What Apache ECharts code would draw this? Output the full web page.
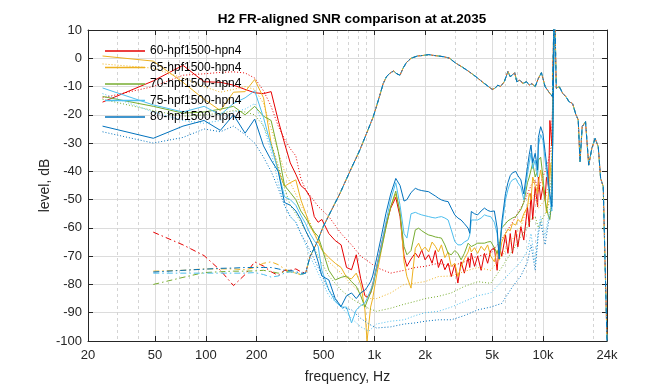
<!DOCTYPE html>
<html><head><meta charset="utf-8">
<script src="https://cdn.jsdelivr.net/npm/echarts@6/dist/echarts.min.js"></script>
<style>html,body{margin:0;padding:0;background:#fff}#c{width:672px;height:384px}</style>
</head><body><div id="c"></div>
<script>
// ---------- axes / labels ----------
const titleText = 'H2 FR-aligned SNR comparison at at.2035';
const tickHz = [20, 50, 100, 200, 500, 1000, 2000, 5000, 10000, 24000];
const tickText = ['20', '50', '100', '200', '500', '1k', '2k', '5k', '10k', '24k'];
const minorHz = [30, 40, 60, 70, 80, 90, 300, 400, 600, 700, 800, 900, 3000, 4000, 6000, 7000, 8000, 9000, 20000];
const configs = ['60-hpf1500-hpn4', '65-hpf1500-hpn4', '70-hpf1500-hpn4', '75-hpf1500-hpn4', '80-hpf1500-hpn4'];

// ---------- solid lines (shared frequency grid, Hz) ----------
const freqSolid = [24.4,48.8,73.2,97.7,122,146,171,195,220,244,269,293,317,342,366,391,415,440,464,488,
  537,586,635,684,732,781,830,879,905,950,977,1030,1100,1170,1250,1340,1420,1500,1560,1650,1750,1830,1910,
  2000,2100,2200,2300,2400,2500,2620,2740,2860,3000,3130,3270,3420,3600,3680,3760,3930,4100,4300,4500,4700,4900,
  5150,5350,5500,5700,6000,6200,6400,6600,6900,7100,7400,7700,8100,8300,8500,8700,9000,9300,9400,9700,10000,10300,10500,10800,11000,11300,11700];
const solid60 = [-15.5,-8,-2.5,-8.3,-8.5,-9.5,-11,-12.2,-12.5,-11.8,
  -22,-30,-37,-41,-45,-46.5,-49,-56,-58,-57,
  -62,-64.5,-66,-74,-74.8,-69.5,-78,-84,-84.5,-83,
  -80,-74,-66,-59,-53,-49.2,-56,-70,-73.6,-71,
  -68.9,-70.5,-67.8,-71.3,-69.5,-72.5,-68,-74,-71,-74.8,
  -72.5,-77.2,-73,-79.5,-72,-76,-70.5,-74,-68.9,-73.6,
  -70,-75,-69,-72.5,-68,-67,-75,-66,-70,-62.5,
  -69,-62,-69,-60.8,-66.7,-59.6,-64.3,-52.5,-59.6,-47.8,
  -57,-45.4,-52.5,-42,-50,-45.4,-50,-42,-45.4,-22,
  -31,20];
const solid65 = [0.8,-1,-8.5,-14.5,-18.5,-12,-11.8,-7.5,-14,-30,
  -39.5,-45.3,-44,-43,-50,-54.7,-59.4,-62,-64.7,-67.8,
  -70.5,-72.5,-74,-77.5,-78,-76,-80,-89,-100,-88,
  -85,-77,-68,-60,-52.5,-48,-54,-72,-77.2,-81.3,
  -67.2,-65.4,-68,-66.8,-68.5,-65,-66.5,-68.5,-66,-70.5,
  -68.5,-73.6,-72.5,-77.2,-73.6,-71,-68.5,-66.6,-68.5,-67,
  -69,-66.5,-68,-66,-70,-72,-68,-71.4,-65,-62,
  -60.5,-61,-58.4,-59,-57,-58,-55,-52.5,-47.8,-50,
  -42,-45,-47.8,-44,-39.5,-45,-50,-54.7,-48,-37,
  -45,20];
const solid70 = [-13.5,-17,-19.4,-19,-18,-17,-20,-17,-20.5,-22,
  -33,-45,-47.5,-50,-54,-56.5,-59,-61.5,-63,-67,
  -75,-78.4,-77.5,-77,-79,-80.7,-84,-88,-86,-83,
  -81,-74.5,-67.5,-60,-52.5,-47,-55,-66.6,-69.5,-68,
  -60.7,-60.1,-61,-61.8,-62.5,-62.8,-63.2,-63.4,-63.6,-66,
  -69,-69.5,-68,-69,-71.3,-69,-65.4,-66,-66.6,-66,
  -65.4,-65.4,-65.4,-65,-64.8,-67,-69,-66.7,-60,-58.5,
  -57.5,-57,-56.5,-56,-55,-53.5,-51,-44,-42,-39.5,
  -37,-42,-40,-36,-35,-42,-50,-53,-56,-57,
  -50,20];
const solid75 = [-10.5,-16.5,-19,-17,-20,-16,-14,-11.5,-21,-31,
  -40,-49,-50,-52,-55.5,-58.5,-62,-64.5,-66.5,-75,
  -82,-86,-88,-88,-93.6,-89,-87.5,-86.5,-85,-82,
  -80,-74,-66,-58,-50,-44,-52,-62,-63.6,-55,
  -54.5,-55,-55.4,-55.7,-56,-56.3,-56.5,-56.2,-56,-56.5,
  -57.2,-60.7,-64.8,-66,-66,-65,-64.2,-62.5,-57.2,-57.2,
  -57.2,-56.5,-55.4,-55.8,-56,-58,-62,-70,-60,-50,
  -46.5,-44,-43,-42.5,-44,-45.5,-50,-41,-37,-33.5,
  -39,-36,-42,-31,-27,-29,-36,-40,-46,-50,
  -54,20];
const solid80 = [-24,-28.3,-24,-22,-25.5,-20,-26.5,-21.5,-31,-36,
  -40,-51,-52,-54,-57,-61,-64,-67.5,-72,-77,
  -78.4,-85,-87.8,-84,-83,-85,-83,-82,-81,-79,
  -77,-71,-63,-55,-48,-42.5,-45,-50.5,-50,-47.5,
  -46,-46.5,-46.8,-47,-47.2,-48,-48.7,-49.5,-50.1,-50.5,
  -50.7,-53,-55.4,-56.5,-57.2,-58.5,-60.1,-61.9,-54.2,-55,
  -55.4,-54,-53,-53.8,-54.2,-54,-60,-71,-58,-47.8,
  -44,-41.5,-40.5,-40,-41.5,-43,-48,-38.3,-34,-30.7,
  -37,-33.6,-39.5,-28,-24.2,-26.6,-33,-37,-44,-48,
  -52.5,20];

// ---------- dotted lines ----------
const freqDot = [24.4,48.8,73.2,97.7,122,146,171,195,220,244,269,293,317,342,366,391,
  415,464,537,635,732,830,928,1030,1250,1500,1750,2000,2400,2860,3420,4100,4900,
  5700,6600,7400,8100,8500,9000,9400,9700,10300,10800,11300,11700];
const dot60 = [-14,-10,-6,-5.5,-5,-4.8,-5.2,-7,-11.5,-17,-24,-28.5,-32,-34.5,-42.5,-46.5,
  -48.5,-52.4,-56,-62,-66,-70,-72,-74,-76,-75,-74,-73.6,-72.5,-73.6,-72,-70,-69,
  -64,-58,-53,-48,-45,-43,-47,-44,-40,-36,-30,20];
const dot65 = [-2,-3.5,-7,-10,-12,-11,-10,-11,-16,-25,-33,-40,-44,-48,-52,-55,
  -58,-65,-72,-76,-80,-83,-85,-85,-83,-80,-79.5,-79,-77.2,-77,-75.4,-74,-75,
  -70,-64,-59.6,-52.5,-50,-47.8,-53,-52,-50,-45,-35,20];
const dot70 = [-14.5,-18.5,-20.5,-20,-19.5,-18.5,-19,-20,-24,-30,-38,-46,-52,-55,-58,-61,
  -64,-70,-77,-82,-85,-87,-88.5,-89.5,-88.4,-87,-86,-85,-84.2,-83,-80.7,-79,-79.6,
  -74,-68,-63,-59.6,-57,-56,-60,-58,-55,-52,-40,20];
const dot75 = [-12.5,-19,-22,-23,-22,-19,-18,-16,-24,-33,-44,-52,-56,-58,-62,-66,
  -70,-76,-84,-88,-92,-95,-96.5,-94,-93,-92.5,-91,-90,-89.5,-88,-86,-84,-83,
  -79,-75,-72,-68,-62,-72.5,-60,-56,-63,-56,-50,20];
const dot80 = [-26,-30,-28,-25,-26,-24,-27,-30,-35,-40,-46,-52,-56,-58,-62,-65,
  -68,-74,-82,-88,-89,-92,-94,-95.4,-95,-94,-93.6,-93,-92.5,-92.5,-91,-89,-88,
  -86.7,-80.8,-77,-72,-66,-75,-62,-58,-66,-58,-52,20];

// ---------- FR (dash-dot) lines: per-config low part + common upper part ----------
const freqFRLow = [48.8,73.2,97.7,122,146,171,195,220,244,269,293,317,342,366,391];
const frLow60 = [-61.5,-66,-69.8,-75,-80.4,-76.5,-72,-73.5,-75.5,-76.8,-75,-75,-74.5,-75.5,-76];
const frLow65 = [-75.3,-75,-74.5,-74.5,-74.5,-74.8,-74,-72.5,-72,-73,-74.5,-75.5,-76,-76.5,-76];
const frLow70 = [-80,-77.5,-75.8,-75.5,-75.3,-75.3,-75.2,-75,-75.5,-76,-75.5,-75.5,-76,-76.5,-76];
const frLow75 = [-76,-76,-76,-76,-76,-76,-75.8,-76.5,-77.4,-77,-76,-75.5,-76,-76.5,-76];
const frLow80 = [-75.6,-75,-74.6,-74.3,-74.2,-74,-74,-74,-74,-74.5,-75,-75,-75.5,-76,-76];
const freqFRHigh = [415,454,497,545,625,716,821,900,985,1060,1129,1180,1237,1300,1360,1420,1480,1550,1650,1800,
  1950,2100,2250,2400,2600,2800,3000,3300,3600,4000,4400,4750,5000,5200,5400,5600,5900,6200,6400,6600,
  6800,7000,7300,7600,8000,8300,8600,9000,9400,9800,10300,10800,11400,11700,12000,12500,13100,13700,14300,15000,
  15700,16200,16600,17100,17900,18700,19500,20400,20800,21300,22000,22400,22800,23300,24000];
const frHigh = [-70.2,-65.5,-59.6,-54.8,-47.8,-40,-32.4,-26.5,-20.7,-14.5,-8.9,-6.5,-5.3,-4.5,-5.5,-6,-3.5,-1.5,0,0.8,
  1,1.3,1,0.8,0.5,0,-1.5,-3,-4.5,-6.5,-8.5,-10,-11,-10.6,-9.5,-10,-8.3,-4.7,-6.5,-5.9,
  -5.1,-8.3,-7.7,-8.9,-8.3,-9.5,-9,-10,-7.1,-5.1,-10,-11.8,-13.6,25,-10.6,-10,-12.4,-13.6,-15.4,-16,
  -20,-21.8,-36.6,-24.2,-22.4,-37.8,-31.9,-28.3,-27.7,-31.3,-42.5,-43,-45.4,-69,-100];

const colors = ['#e60000', '#edb120', '#77ac30', '#4dbeee', '#0072bd'];
const solids = [solid60, solid65, solid70, solid75, solid80];
const dots = [dot60, dot65, dot70, dot75, dot80];
const frLows = [frLow60, frLow65, frLow70, frLow75, frLow80];

const FONT = "'Liberation Sans', Arial, Helvetica, sans-serif";
const lg = Math.log10;
function pts(freqs, vals) { return freqs.map((f, i) => [lg(f), vals[i]]); }

const series = [];
configs.forEach((name, k) => {
  series.push({ name: name + ' noise', type: 'line', symbol: 'none', data: pts(freqDot, dots[k]),
    lineStyle: { color: colors[k], width: 1, type: [1, 2] }, itemStyle: { color: colors[k] }, z: 2 });
  series.push({ name: name, type: 'line', symbol: 'none', data: pts(freqSolid, solids[k]),
    lineStyle: { color: colors[k], width: 1 }, itemStyle: { color: colors[k] }, z: 2 });
  series.push({ name: name + ' FR', type: 'line', symbol: 'none',
    data: pts(freqFRLow.concat(freqFRHigh), frLows[k].concat(frHigh)),
    lineStyle: { color: colors[k], width: 1, type: [6, 3, 1.5, 3] }, itemStyle: { color: colors[k] }, z: 2 });
});

const majorPos = tickHz.map(lg);
const minorPos = minorHz.map(lg);
const xmin = lg(20), xmax = lg(24000);
function fmt(v) {
  const i = majorPos.findIndex(p => Math.abs(p - v) < 1e-6);
  return i >= 0 ? tickText[i] : '';
}
const axisCol = '#262626';
const option = {
  animation: false,
  backgroundColor: '#ffffff',
  title: { text: titleText, left: 347, top: 7, textAlign: 'center',
    textStyle: { fontFamily: FONT, fontSize: 13.5, fontWeight: 'bold', color: '#000' } },
  legend: { data: configs, orient: 'vertical', left: 100, top: 40, icon: 'rect', itemWidth: 40, itemHeight: 1.5, itemGap: 4.5,
    textStyle: { fontFamily: FONT, fontSize: 12, color: '#000' }, backgroundColor: 'transparent', selectedMode: false },
  grid: { left: 88, right: 65, top: 30, bottom: 43, outerBoundsMode: 'none', containLabel: false },
  xAxis: [
    { type: 'value', min: xmin, max: xmax, position: 'bottom',
      axisLine: { show: true, onZero: false, lineStyle: { color: axisCol, width: 1 } },
      axisTick: { show: true, inside: true, length: 5, customValues: majorPos, lineStyle: { color: axisCol } },
      axisLabel: { customValues: majorPos, formatter: fmt, margin: 8, fontSize: 13, color: axisCol, fontFamily: FONT,
        showMinLabel: true, showMaxLabel: true },
      splitLine: { show: true, lineStyle: { color: '#dcdcdc', width: 1 } },
      name: 'frequency, Hz', nameLocation: 'middle', nameGap: 29, nameMoveOverlap: false,
      nameTextStyle: { fontFamily: FONT, fontSize: 14, color: axisCol } },
    { type: 'value', min: xmin, max: xmax, position: 'bottom',
      axisLine: { show: false }, axisTick: { show: false, customValues: minorPos }, axisLabel: { show: false },
      splitLine: { show: true, lineStyle: { color: '#d4d4d4', width: 1, type: [3, 3] } } },
    { type: 'value', min: xmin, max: xmax, position: 'top',
      axisLine: { show: true, onZero: false, lineStyle: { color: axisCol, width: 1 } },
      axisTick: { show: true, inside: true, length: 5, customValues: majorPos, lineStyle: { color: axisCol } },
      axisLabel: { show: false }, splitLine: { show: false } }
  ],
  yAxis: [
    { type: 'value', min: -100, max: 10, interval: 10, position: 'left',
      axisLine: { show: true, onZero: false, lineStyle: { color: axisCol, width: 1 } },
      axisTick: { show: true, inside: true, length: 5, lineStyle: { color: axisCol } },
      axisLabel: { fontSize: 13, color: axisCol, fontFamily: FONT, margin: 6 },
      splitLine: { show: true, lineStyle: { color: '#dcdcdc', width: 1 } },
      name: 'level, dB', nameLocation: 'middle', nameGap: 36, nameMoveOverlap: false,
      nameTextStyle: { fontFamily: FONT, fontSize: 14, color: axisCol } },
    { type: 'value', min: -100, max: 10, interval: 10, position: 'right',
      axisLine: { show: true, onZero: false, lineStyle: { color: axisCol, width: 1 } },
      axisTick: { show: true, inside: true, length: 5, lineStyle: { color: axisCol } },
      axisLabel: { show: false }, splitLine: { show: false } }
  ],
  series: series
};
const chart = echarts.init(document.getElementById('c'), null, { renderer: 'canvas' });
chart.setOption(option);
</script>
</body></html>
